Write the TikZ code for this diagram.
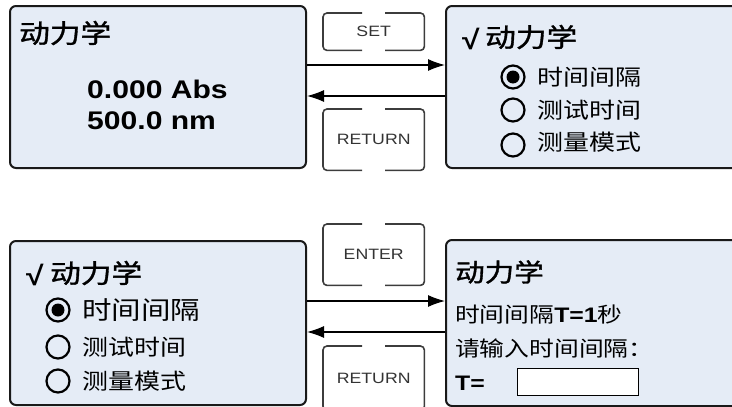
\documentclass[tikz,border=0pt]{standalone}
\usepackage{fontspec}
\setmainfont{Liberation Sans}
\newfontfamily\cjk{Noto Sans CJK SC}
\newfontfamily\cjkb[FakeBold=1.2]{Noto Sans CJK SC}
\usetikzlibrary{arrows.meta}
\definecolor{scr}{RGB}{229,236,246}
\definecolor{edge}{RGB}{25,25,25}
\newcommand{\hs}[1]{\scalebox{1.18}[1]{#1}}
\newcommand{\fs}[1]{\fontsize{#1}{#1}\selectfont}
\begin{document}
\begin{tikzpicture}[x=1pt,y=-1pt,
 screen/.style={draw=edge, line width=2pt, fill=scr, rounded corners=6pt, inner sep=0pt, anchor=north west},
 txt/.style={inner sep=0pt, anchor=west},
 btn/.style={inner sep=0pt, minimum width=101pt, anchor=north west, font=\fs{15}, text=black!80},
 btnline/.style={draw=edge!85, line width=1.6pt, rounded corners=4pt},
 arr/.style={line width=1.2pt, -{Latex[length=17pt,width=12pt]}},
 radio/.style={circle, draw=black, line width=2.2pt, minimum size=23pt, inner sep=0pt},
 chk/.style={inner sep=0pt, anchor=west, font=\bfseries\fs{27}},
]
\useasboundingbox (0,0) rectangle (732,407);
\clip (0,0) rectangle (732,407);

% screens
\node[screen, minimum width=296pt, minimum height=162pt] (s1) at (9,5) {};
\node[screen, minimum width=300pt, minimum height=162pt] (s2) at (445,5) {};
\node[screen, minimum width=296pt, minimum height=164pt] (s3) at (9,240) {};
\node[screen, minimum width=300pt, minimum height=166pt] (s4) at (445,239) {};

% buttons
\node[btn, minimum height=37pt] (b1) at (323,13) {\hs{SET}};
\node[btn, minimum height=61pt] (b2) at (323,109) {\hs{RETURN}};
\node[btn, minimum height=61pt] (b3) at (323,224) {\hs{ENTER}};
\node[btn, minimum height=64pt] (b4) at (323,346) {\hs{RETURN}};
\foreach \b in {b1,b2,b3,b4}{
  \draw[btnline] ([xshift=-11.5pt]\b.north) -| (\b.south west) -- ([xshift=-11.5pt]\b.south);
  \draw[btnline] ([xshift=11.5pt]\b.north) -| (\b.south east) -- ([xshift=11.5pt]\b.south);
}

% arrows
\coordinate (y1) at (0,65);
\coordinate (y2) at (0,96);
\coordinate (y3) at (0,301);
\coordinate (y4) at (0,332);
\draw[arr] (s1.east |- y1) -- (s2.west |- y1);
\draw[arr] (s2.west |- y2) -- (s1.east |- y2);
\draw[arr] (s3.east |- y3) -- (s4.west |- y3);
\draw[arr] (s4.west |- y4) -- (s3.east |- y4);

% screen 1
\node[txt, font=\cjkb\fs{26}] (t11) at (19,33) {\hs{动力学}};
\node[inner sep=0pt, anchor=base west, font=\bfseries\fs{25.5}] (t12) at (87,98) {\hs{0.000 Abs}};
\node[inner sep=0pt, anchor=base west, font=\bfseries\fs{25.5}] (t13) at (87,129) {\hs{500.0 nm}};

% screen 2
\node[chk] (c2) at (462,39) {\hs{√}};
\node[txt, font=\cjkb\fs{26}] (t21) at (485,37) {\hs{动力学}};
\node[radio] (r21) at (513,77) {};
\fill (r21.center) circle (6.5pt);
\node[radio] (r22) at (513,110) {};
\node[radio] (r23) at (513,145) {};
\node[txt, font=\cjk\fs{22}] (t22) at (537,77) {\hs{时间间隔}};
\node[txt, font=\cjk\fs{22}] (t23) at (537,110) {\hs{测试时间}};
\node[txt, font=\cjk\fs{22}] (t24) at (537,142) {\hs{测量模式}};

% screen 3
\node[chk] (c3) at (26,275) {\hs{√}};
\node[txt, font=\cjkb\fs{26}] (t31) at (50,273) {\hs{动力学}};
\node[radio] (r31) at (58,310) {};
\fill (r31.center) circle (6.5pt);
\node[radio] (r32) at (58,347) {};
\node[radio] (r33) at (58,381) {};
\node[txt, font=\cjk\fs{25}] (t32) at (82,310) {\hs{时间间隔}};
\node[txt, font=\cjk\fs{22}] (t33) at (82,347) {\hs{测试时间}};
\node[txt, font=\cjk\fs{22}] (t34) at (82,381) {\hs{测量模式}};

% screen 4
\node[txt, font=\cjkb\fs{25}] (t41) at (455,272) {\hs{动力学}};
\node[txt, font=\fs{21}] (t42) at (455,315) {\hs{{\cjk 时间间隔}\textbf{T=1}{\cjk 秒}}};
\node[txt, font=\cjk\fs{21}] (t43) at (455,348) {\hs{请输入时间间隔：}};
\node[txt, font=\bfseries\fs{21}] (t44) at (455,383) {\hs{T=}};
\node[draw=black, line width=1pt, fill=white, minimum width=121pt, minimum height=27pt, anchor=north west, inner sep=0pt] (inp) at (517,368) {};
\end{tikzpicture}
\end{document}
